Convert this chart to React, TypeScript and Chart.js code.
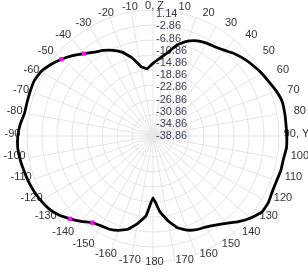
import React, { useEffect, useRef } from 'react';
import { Chart, registerables } from 'chart.js';

Chart.register(...registerables);

// Radiation pattern (dB), one value every 5 degrees, clockwise from 0 (Z, top) to 355
const patternDb = [
  -14.97, -13.23, -10.99, -7.8, -5.67, -4.35, -3.63, -3.14, -2.15, -0.74,
  0.41, 1.4, 2.38, 3.2, 4.29, 5.08, 5.08, 5.01, 5.11, 5.18,
  4.68, 4.65, 4.35, 4.39, 4.91, 4.78, 3.04, 0.9, -1.4, -3.11,
  -4.29, -4.91, -5.93, -7.64, -10.6, -14.05, -18.49,
  -12.57, -9.61, -7.15, -5.83, -5.04, -4.75, -4.09, -2.22, -0.38,
  1.53, 2.88, 3.66, 4.25, 4.72, 5.08, 5.5, 5.77, 5.57, 4.95,
  4.03, 3.99, 4.09, 4.19, 3.6, 2.12, 0.41, -1.5, -3.53, -5.21,
  -6.36, -7.8, -9.61, -12.24, -15.59, -16.68,
];

// Highlighted (magenta) samples: angle in degrees (0..355) -> value
const markerAngles = [265, 310, 320, 225, 215];
const markerValues = [5.77, 0.41, -3.53, -0.38, -4.09];

const angleLabels = [
  '0, Z', '10', '20', '30', '40', '50', '60', '70', '80', '90, Y',
  '100', '110', '120', '130', '140', '150', '160', '170', '180',
  '-170', '-160', '-150', '-140', '-130', '-120', '-110', '-100', '-90',
  '-80', '-70', '-60', '-50', '-40', '-30', '-20', '-10',
];

const radialTickValues = [1.14, -2.86, -6.86, -10.86, -14.86, -18.86, -22.86, -26.86, -30.86, -34.86, -38.86];
const gridCircleValues = [-36.89, -31.96, -27.03, -22.1, -17.17, -12.24, -7.31, -2.38, 2.55];

const R_MIN = -38.86;
const R_MAX = 2.55;
const STEP_DEG = 5;

const FONT = 'Arial, "Liberation Sans", sans-serif';

const labelPlugin = {
  id: 'polarLabels',
  beforeDatasetsDraw(chart: any) {
    const scale = chart.scales.r;
    const ctx = chart.ctx;
    const cx = scale.xCenter;
    const cy = scale.yCenter;
    const R = scale.drawingArea;
    ctx.save();
    ctx.font = `11px ${FONT}`;
    // radial tick labels
    ctx.fillStyle = '#3c3f52';
    ctx.textAlign = 'left';
    ctx.textBaseline = 'middle';
    radialTickValues.forEach((v) => {
      const d = scale.getDistanceFromCenterForValue(v);
      ctx.fillText(v.toFixed(2), cx + 3, cy - d);
    });
    // angular labels
    ctx.fillStyle = '#333';
    ctx.textAlign = 'center';
    ctx.textBaseline = 'middle';
    const perLabel = 10 / STEP_DEG;
    angleLabels.forEach((lab, j) => {
      const a = scale.getIndexAngle(j * perLabel);
      const s = Math.sin(a);
      const c = Math.cos(a);
      const rightShift = s > 0.1 && j !== 9 ? 5.5 : 0;
      const x = cx + (R + 16) * s + 1.5 + rightShift;
      const y = cy - 2.5 - (R + 2) * c;
      ctx.fillText(lab, x, y);
    });
    ctx.restore();
  },
};

export default function App() {
  const ref = useRef<HTMLCanvasElement | null>(null);
  useEffect(() => {
    if (!ref.current) return;
    Chart.defaults.font.family = FONT;
    const labels = patternDb.map((_, i) => i * STEP_DEG);
    const markerData = patternDb.map(() => null as number | null);
    markerAngles.forEach((a, k) => {
      markerData[a / STEP_DEG] = markerValues[k];
    });
    const chart = new Chart(ref.current, {
      type: 'radar',
      data: {
        labels,
        datasets: [
          {
            data: markerData,
            showLine: false,
            pointRadius: 3,
            pointStyle: 'rect',
            pointBackgroundColor: '#ff00ff',
            pointBorderColor: '#ff00ff',
            pointBorderWidth: 0,
            order: 0,
            clip: false,
          } as any,
          {
            data: patternDb,
            borderColor: '#000',
            borderWidth: 2.8,
            fill: false,
            tension: 0.12,
            pointRadius: 0,
            borderJoinStyle: 'round',
            order: 1,
            clip: false,
          } as any,
        ],
      },
      options: {
        animation: false,
        responsive: true,
        maintainAspectRatio: false,
        layout: { padding: { left: 27, right: 28, top: 0, bottom: 0 } },
        plugins: { legend: { display: false }, tooltip: { enabled: false } },
        scales: {
          r: {
            min: R_MIN,
            max: R_MAX,
            startAngle: 0,
            afterBuildTicks: (scale: any) => {
              scale.ticks = gridCircleValues.map((v) => ({ value: v }));
            },
            ticks: { display: false },
            pointLabels: { display: false },
            grid: { circular: true, color: '#e5e5e5', lineWidth: 1 },
            angleLines: {
              color: '#e5e5e5',
              lineWidth: (c: any) => (c.index % 2 === 0 ? 1 : 0),
            },
          } as any,
        },
      },
      plugins: [labelPlugin],
    });
    return () => chart.destroy();
  }, []);
  return (
    <div style={{ position: 'absolute', left: 0, top: 0, width: 308, height: 273, background: '#fff' }}>
      <canvas ref={ref} />
    </div>
  );
}
